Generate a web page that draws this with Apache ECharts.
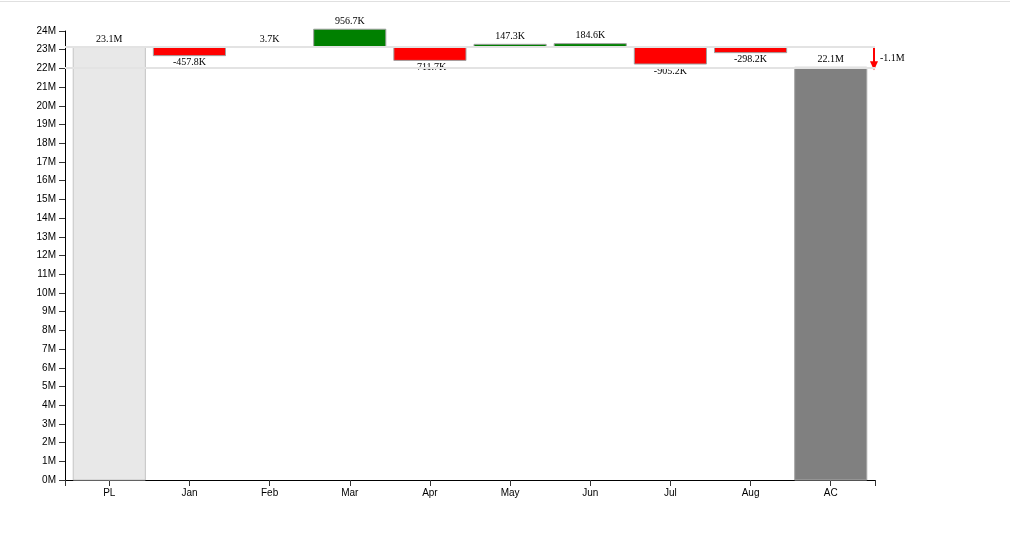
<!DOCTYPE html>
<html><head><meta charset="utf-8">
<script src="https://cdn.jsdelivr.net/npm/echarts@6/dist/echarts.min.js"></script>
<style>
html,body{margin:0;padding:0;background:#fff;}
#topline{position:absolute;left:0;top:1px;width:1010px;height:1px;background:#e0e0e0;}
#chart{position:absolute;left:0;top:0;width:1010px;height:546px;}
</style></head>
<body>
<div id="topline"></div>
<div id="chart"></div>
<script>
// ---- data ----
const categories = ['PL','Jan','Feb','Mar','Apr','May','Jun','Jul','Aug','AC'];
const plValue = 23140000;
const monthDeltas = [-457800, 3700, 956700, -711700, 147300, 184600, -905200, -298200];
const yMax = 24000000;
const yStep = 1000000;

const totalDelta = monthDeltas.reduce((a,b)=>a+b,0);
const acValue = plValue + totalDelta;

function fmt(v){
  const a = Math.abs(v);
  if (a >= 1e6) return (v/1e6).toFixed(1) + 'M';
  return (v/1e3).toFixed(1) + 'K';
}

const kinds = [];
const barData = [];
const labelVals = [];
barData.push([0, 0, plValue]); kinds.push('pl'); labelVals.push(plValue);
monthDeltas.forEach((d,k)=>{
  barData.push([k+1, plValue, plValue+d]);
  kinds.push(d >= 0 ? 'up' : 'down');
  labelVals.push(d);
});
barData.push([categories.length-1, 0, acValue]); kinds.push('ac'); labelVals.push(acValue);

const fills = {pl:'#e8e8e8', ac:'#808080', up:'#008000', down:'#ff0000'};
const strokes = {pl:'#c4c4c4', ac:'#a8a8a8', up:'#a0a0a0', down:'#a0a0a0'};
const serif = '"Liberation Serif","Times New Roman",serif';
const sans = '"Liberation Sans",Arial,sans-serif';

const chart = echarts.init(document.getElementById('chart'), null, {renderer:'canvas'});
chart.setOption({
  animation:false,
  grid:[
    {left:65, right:135, top:31, bottom:66},
    {left:69.2, right:139.2, top:31, bottom:66}
  ],
  xAxis:[
    {
      gridIndex:0, type:'value', min:0, max:1, interval:1,
      splitLine:{show:false},
      axisLine:{show:true, onZero:false, lineStyle:{color:'#000', width:1}},
      axisTick:{show:true, length:6, lineStyle:{color:'#333'}},
      axisLabel:{show:false}
    },
    {
      gridIndex:1, type:'category', data:categories, boundaryGap:true,
      axisLine:{show:true, onZero:false, lineStyle:{color:'#000', width:1}},
      axisTick:{show:true, inside:false, alignWithLabel:true, interval:0, length:6,
        lineStyle:{color:'#333', width:1}},
      axisLabel:{color:'#000', fontFamily:sans, fontSize:10, margin:8, interval:0}
    }
  ],
  yAxis:[
    {
      gridIndex:0, type:'value', min:0, max:yMax, interval:yStep,
      splitLine:{show:false},
      axisLine:{show:true, onZero:false, lineStyle:{color:'#000', width:1}},
      axisTick:{show:true, length:6, lineStyle:{color:'#333'}},
      axisLabel:{formatter:(v)=>Math.round(v/1e6)+'M', color:'#000',
        fontFamily:sans, fontSize:10, margin:9}
    },
    {
      gridIndex:1, type:'value', min:0, max:yMax, show:false, splitLine:{show:false}
    }
  ],
  series:[
    {
      type:'line', xAxisIndex:0, yAxisIndex:0, data:[], z:1, silent:true,
      markLine:{
        silent:true, symbol:['none','none'], label:{show:false},
        lineStyle:{color:'#e3e3e3', width:2, type:'solid'},
        emphasis:{disabled:true},
        data:[{yAxis:plValue},{yAxis:acValue}]
      }
    },
    {
      type:'custom', xAxisIndex:1, yAxisIndex:1, z:3, silent:true,
      data:barData,
      encode:{x:0, y:[1,2]},
      renderItem:(params, api)=>{
        const idx = params.dataIndex;
        const i = api.value(0), lo = api.value(1), hi = api.value(2);
        const top = api.coord([i, Math.max(lo,hi)]);
        const bot = api.coord([i, Math.min(lo,hi)]);
        const w = api.size([1,0])[0] * 0.9;
        const kind = kinds[idx];
        const neg = kind === 'down';
        const ty = neg ? bot[1] + 7 : top[1] - 8;
        return {
          type:'group',
          children:[
            {type:'rect', shape:{x:top[0]-w/2, y:top[1], width:w, height:Math.max(bot[1]-top[1],0.5)},
             style:{fill:fills[kind], stroke:strokes[kind], lineWidth:1}},
            {type:'text', x:top[0], y:ty,
             style:{text:fmt(labelVals[idx]), fill:'#000', font:'10px '+serif,
               textAlign:'center', textVerticalAlign:'middle'}}
          ]
        };
      }
    },
    {
      type:'custom', xAxisIndex:0, yAxisIndex:0, z:4, silent:true,
      data:[[1, plValue, acValue]],
      encode:{x:0, y:[1,2]},
      renderItem:(params, api)=>{
        const a = api.coord([api.value(0), api.value(1)]);
        const b = api.coord([api.value(0), api.value(2)]);
        const x = a[0] - 1;
        const tip = b[1] + 3;
        return {
          type:'group',
          children:[
            {type:'line', shape:{x1:x, y1:a[1], x2:x, y2:tip-7},
             style:{stroke:'#ff0000', lineWidth:2}},
            {type:'polygon', shape:{points:[[x-4,tip-9],[x+4,tip-9],[x,tip]]},
             style:{fill:'#ff0000'}},
            {type:'text', x:x+6, y:(a[1]+b[1])/2 + 1,
             style:{text:fmt(totalDelta), fill:'#000', font:'10px '+serif,
               textAlign:'left', textVerticalAlign:'middle'}}
          ]
        };
      }
    }
  ]
});
</script>
</body></html>
